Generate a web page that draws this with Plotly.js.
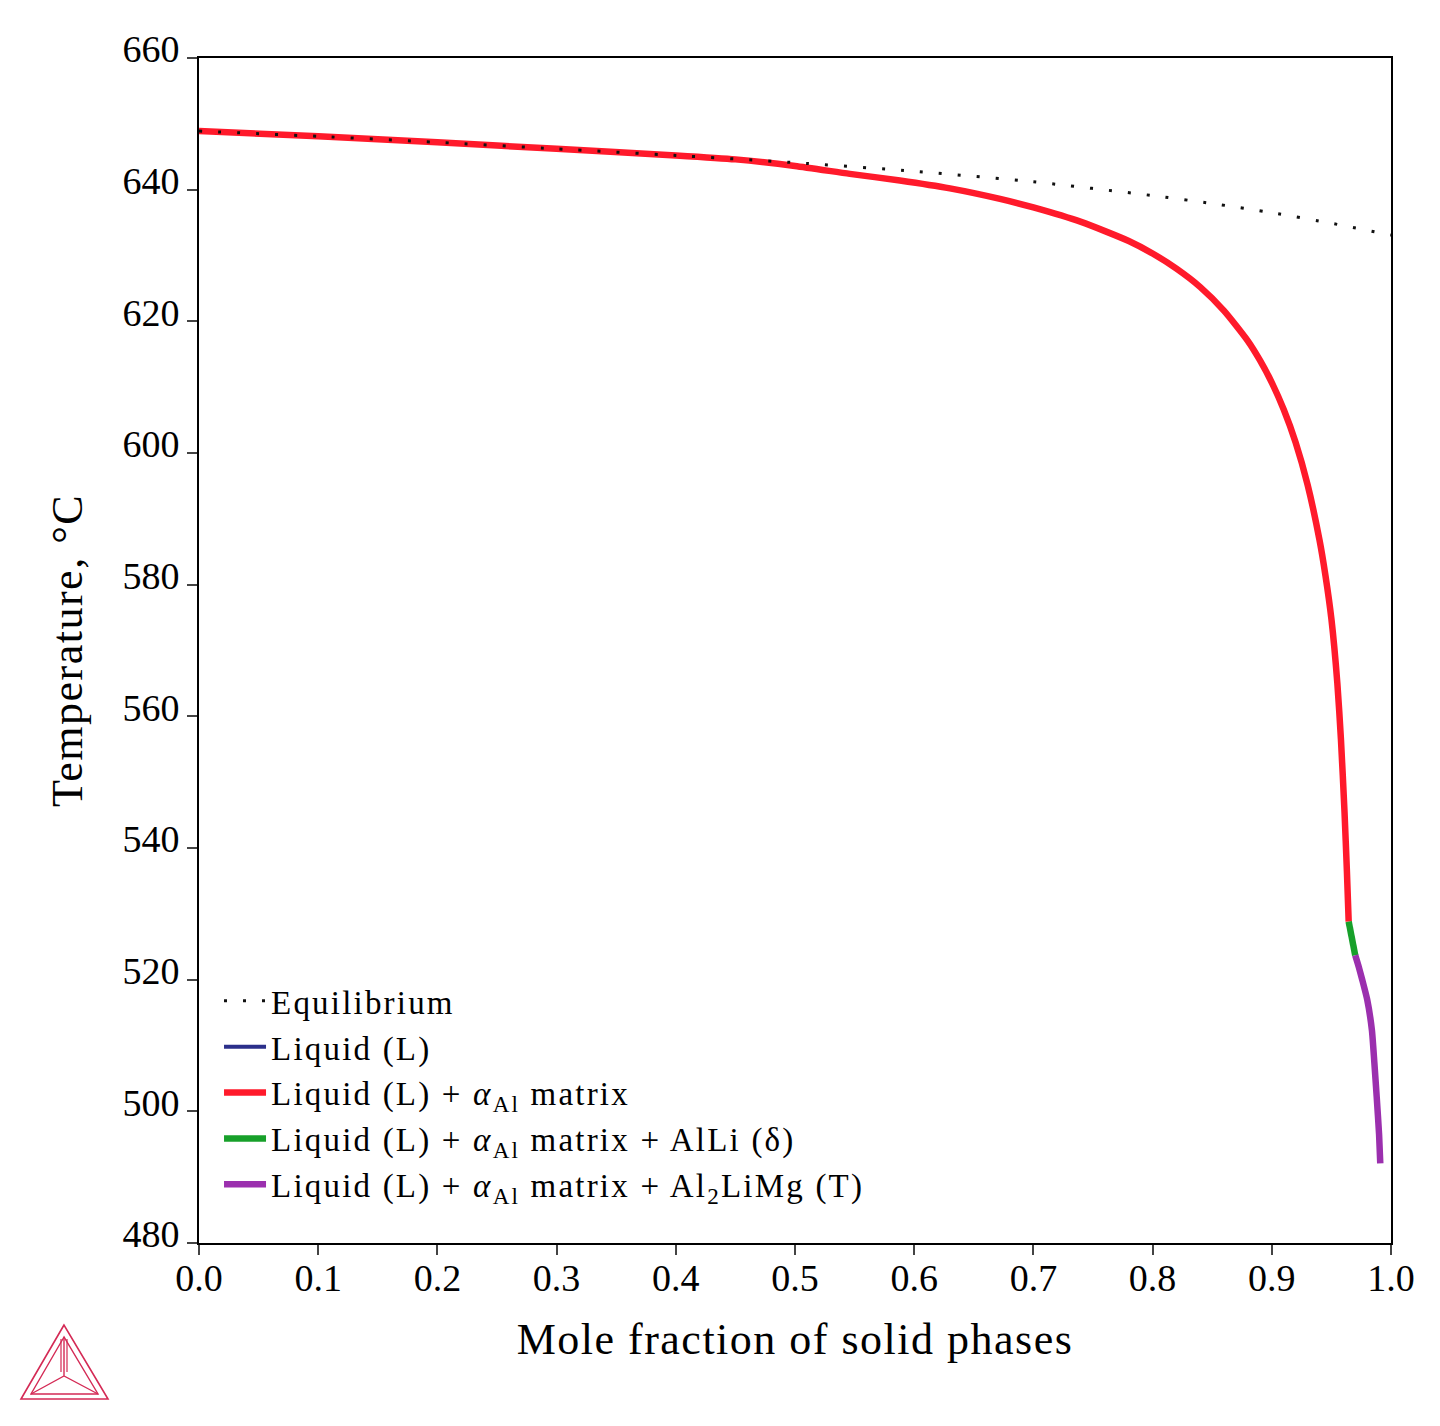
<!DOCTYPE html>
<html>
<head>
<meta charset="utf-8">
<script src="https://cdn.plot.ly/plotly-3.0.1.min.js"></script>
<style>
html,body{margin:0;padding:0;background:#fff;}
#chart{width:1440px;height:1426px;}
.legendtext{letter-spacing:2.2px;}
.xtitle,.ytitle{letter-spacing:1.5px;}
</style>
</head>
<body>
<div id="chart"></div>
<script>
// Data
const eqX = [0, 0.1, 0.2, 0.3, 0.4, 0.5, 0.6, 0.7, 0.8, 0.85, 0.9, 0.95, 1.0];
const eqT = [648.9, 648.1, 647.2, 646.2, 645.2, 644.1, 642.8, 641.2, 639.1, 637.9, 636.5, 634.9, 633.1];

const liqX = [0];
const liqT = [648.9];

const alX = [0, 0.1, 0.2, 0.3, 0.4, 0.45, 0.5, 0.546, 0.588, 0.63, 0.672, 0.70, 0.74, 0.78, 0.80, 0.82, 0.84, 0.86, 0.88, 0.89, 0.90, 0.91, 0.92, 0.93, 0.94, 0.945, 0.95, 0.955, 0.958, 0.961, 0.963, 0.9645];
const alT = [648.9, 648.1, 647.2, 646.2, 645.2, 644.6, 643.6, 642.4, 641.4, 640.2, 638.6, 637.3, 635.1, 632.2, 630.3, 628.0, 625.2, 621.6, 617.0, 614.1, 610.7, 606.6, 601.6, 595.2, 586.8, 581.4, 574.8, 565.0, 556.5, 545.5, 536.5, 528.8];

const alliX = [0.9645, 0.967, 0.970];
const alliT = [528.8, 526.2, 523.7];

const tX = [0.970, 0.973, 0.976, 0.980, 0.984, 0.986, 0.988, 0.990, 0.991];
const tT = [523.7, 521.9, 519.9, 517.0, 512.3, 507.5, 502.2, 496.5, 492.1];

const xTicks = [0, 0.1, 0.2, 0.3, 0.4, 0.5, 0.6, 0.7, 0.8, 0.9, 1.0];
const xTickText = ['0.0','0.1','0.2','0.3','0.4','0.5','0.6','0.7','0.8','0.9','1.0'];
const yTicks = [480, 500, 520, 540, 560, 580, 600, 620, 640, 660];

const serif = '"Liberation Serif", "DejaVu Serif", serif';

const traces = [
  {x: liqX, y: liqT, mode: 'lines', name: 'Liquid (L)', legendrank: 2,
   line: {color: '#2b2f8a', width: 4}},
  {x: alX, y: alT, mode: 'lines', name: 'Liquid (L) + <i>α</i><sub>Al</sub> matrix', legendrank: 3,
   line: {color: '#ff1a2b', width: 6.5, shape: 'spline', smoothing: 0.6}},
  {x: alliX, y: alliT, mode: 'lines', name: 'Liquid (L) + <i>α</i><sub>Al</sub> matrix + AlLi (δ)', legendrank: 4,
   line: {color: '#17a02a', width: 6.5}},
  {x: tX, y: tT, mode: 'lines', name: 'Liquid (L) + <i>α</i><sub>Al</sub> matrix + Al<sub>2</sub>LiMg (T)', legendrank: 5,
   line: {color: '#9b2fae', width: 6.5, shape: 'spline', smoothing: 0.5}},
  {x: eqX, y: eqT, mode: 'lines', name: 'Equilibrium', legendrank: 1,
   line: {color: '#111', width: 3, dash: '3px,16px', shape: 'spline', smoothing: 0.6}}
];

// Thermo-Calc style logo (decoration) in paper coords
function px(xp){return (xp-199)/1192;}
function py(yp){return (1243-yp)/1185;}
function tri(a,b,c){return 'M'+px(a[0])+','+py(a[1])+' L'+px(b[0])+','+py(b[1])+' L'+px(c[0])+','+py(c[1])+' Z';}
const logoColor = '#d42a55';
const shapes = [
  {type:'path', xref:'paper', yref:'paper', path: tri([64,1325],[21,1399],[108,1399]), line:{color:logoColor,width:1.6}},
  {type:'path', xref:'paper', yref:'paper', path: tri([64,1337],[31,1394],[98,1394]), line:{color:logoColor,width:1.4}},
  {type:'path', xref:'paper', yref:'paper', path: 'M'+px(64)+','+py(1337)+' L'+px(64)+','+py(1376)+' M'+px(31)+','+py(1394)+' L'+px(64)+','+py(1376)+' L'+px(98)+','+py(1394), line:{color:logoColor,width:1.4}},
  {type:'path', xref:'paper', yref:'paper', path: 'M'+px(61)+','+py(1339)+' L'+px(61)+','+py(1372)+' M'+px(67)+','+py(1339)+' L'+px(67)+','+py(1372), line:{color:logoColor,width:1.2}}
];

const layout = {
  width: 1440, height: 1426,
  margin: {l: 199, r: 49, t: 58, b: 183, pad: 0},
  paper_bgcolor: '#fff', plot_bgcolor: '#fff',
  font: {family: serif, color: '#000', size: 36},
  showlegend: true,
  legend: {x: 0.0168, y: 0.228, xanchor: 'left', yanchor: 'top', bgcolor: 'rgba(0,0,0,0)',
           font: {family: serif, size: 33, color: '#000'}, itemwidth: 42, tracegroupgap: 0},
  xaxis: {range: [0, 1], tickvals: xTicks, ticktext: xTickText, ticks: 'outside', ticklen: 10,
          tickwidth: 2, tickcolor: '#444', showline: true, linecolor: '#000', linewidth: 2,
          mirror: true, showgrid: false, zeroline: false, ticklabelstandoff: -10,
          tickfont: {family: serif, size: 38, color: '#000'},
          title: {text: 'Mole fraction of solid phases', font: {family: serif, size: 44, color: '#000'}, standoff: 26}},
  yaxis: {range: [480, 660], tickvals: yTicks, ticks: 'outside', ticklen: 10, tickwidth: 2,
          tickcolor: '#444', showline: true, linecolor: '#000', linewidth: 2, mirror: true,
          showgrid: false, zeroline: false, ticklabelshift: -9,
          tickfont: {family: serif, size: 38, color: '#000'},
          title: {text: 'Temperature, °C', font: {family: serif, size: 44, color: '#000'}, standoff: 26}},
  shapes: shapes
};

Plotly.newPlot('chart', traces, layout, {displayModeBar: false, staticPlot: true});
</script>
</body>
</html>
